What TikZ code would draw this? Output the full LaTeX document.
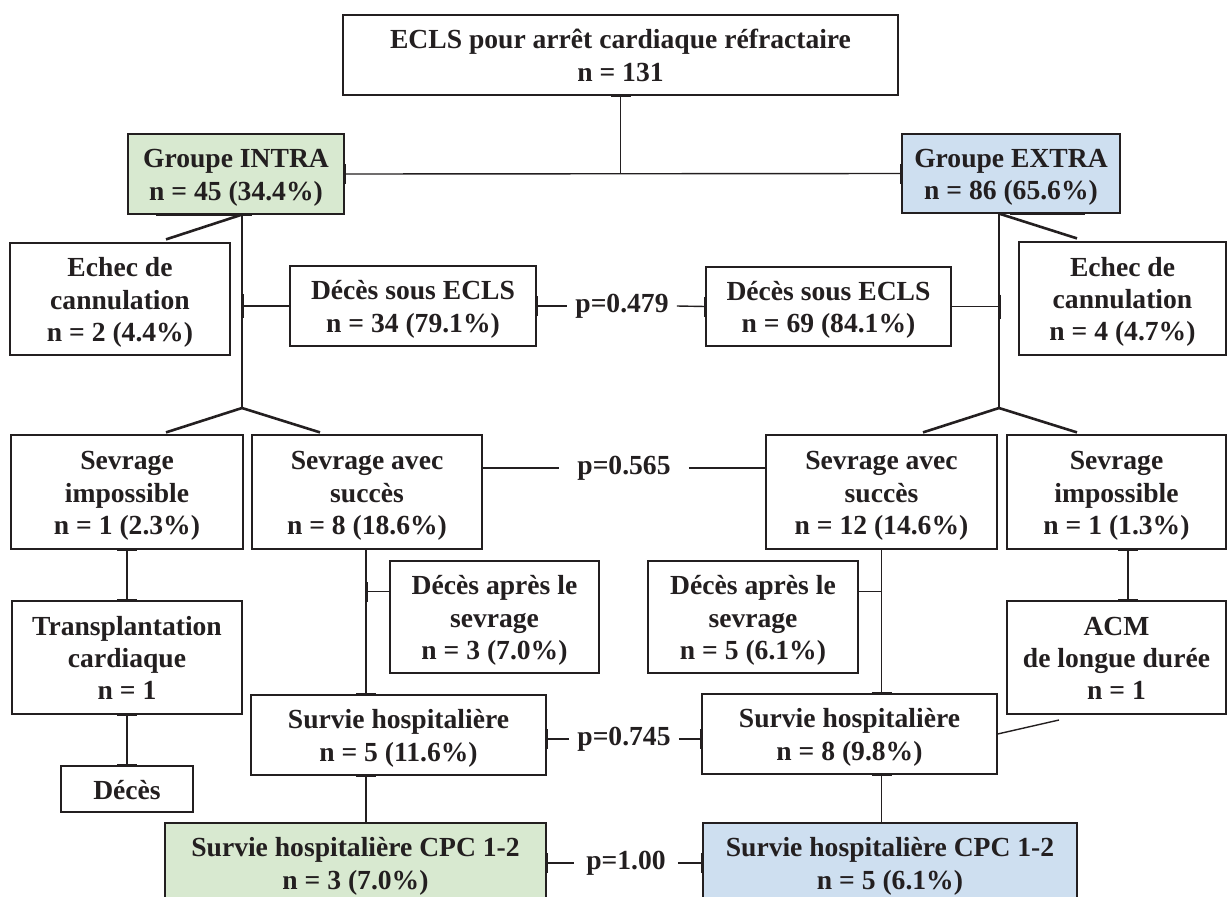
\documentclass[tikz,border=0pt]{standalone}
\usepackage{fontspec}
\setmainfont{Liberation Serif}
\usetikzlibrary{calc}
\definecolor{gfill}{RGB}{216,233,208}
\definecolor{bfill}{RGB}{206,223,240}
\definecolor{ink}{RGB}{35,31,32}
\begin{document}
\begin{tikzpicture}[x=1pt,y=-1pt,
  box/.style={draw=ink,line width=1.2pt,align=center,inner sep=0pt,text=ink,
    font=\fontsize{27.6}{32.4}\selectfont\bfseries,text depth=8pt},
  lone/.style={text height=28pt},
  ltwo/.style={text height=60.4pt},
  lthree/.style={text height=92.8pt},
  plabel/.style={inner ysep=0pt,inner xsep=8pt,text=ink,font=\fontsize{27.6}{32.4}\selectfont\bfseries},
  conn/.style={draw=ink,line width=1.4pt},
  diag/.style={draw=ink,line width=2.6pt},
  tick/.style={draw=ink,line width=3pt}]
\useasboundingbox (0,0) rectangle (1227,897);
\clip (0,0) rectangle (1227,897);

% nodes
\node[box,ltwo,minimum width=555pt,minimum height=80pt] (top) at (620.5,55) {ECLS pour arrêt cardiaque réfractaire\\n = 131};
\node[box,ltwo,fill=gfill,minimum width=216pt,minimum height=80pt] (intra) at (236,174) {Groupe INTRA\\n = 45 (34.4\%)};
\node[box,ltwo,fill=bfill,minimum width=218pt,minimum height=79pt] (extra) at (1011,173.5) {Groupe EXTRA\\n = 86 (65.6\%)};

\node[box,lthree,minimum width=220pt,minimum height=112pt] (echecL) at (120,299) {Echec de\\cannulation\\n = 2 (4.4\%)};
\node[box,ltwo,minimum width=246pt,minimum height=80pt] (decesL) at (413,306) {Décès sous ECLS\\n = 34 (79.1\%)};
\node[box,ltwo,minimum width=245pt,minimum height=79pt] (decesR) at (828.5,306.5) {Décès sous ECLS\\n = 69 (84.1\%)};
\node[box,lthree,minimum width=207pt,minimum height=113pt] (echecR) at (1122.5,298.5) {Echec de\\cannulation\\n = 4 (4.7\%)};
\node[plabel] (p1) at (622,306) {p=0.479};

\node[box,lthree,minimum width=232pt,minimum height=114pt] (sevImpL) at (127,492) {Sevrage\\impossible\\n = 1 (2.3\%)};
\node[box,lthree,minimum width=230pt,minimum height=114pt] (sevSucL) at (367,492) {Sevrage avec\\succès\\n = 8 (18.6\%)};
\node[box,lthree,minimum width=231pt,minimum height=114pt] (sevSucR) at (881.5,492) {Sevrage avec\\succès\\n = 12 (14.6\%)};
\node[box,lthree,minimum width=219pt,minimum height=114pt] (sevImpR) at (1116.5,492) {Sevrage\\impossible\\n = 1 (1.3\%)};
\node[plabel,inner xsep=18pt] (p2) at (624,468) {p=0.565};

\node[box,lthree,minimum width=230pt,minimum height=113pt] (transpl) at (127,657.5) {Transplantation\\cardiaque\\n = 1};
\node[box,lone,minimum width=132pt,minimum height=46pt] (decesBox) at (127,789) {Décès};
\node[box,lthree,minimum width=209pt,minimum height=112pt] (dapL) at (494.5,617) {Décès après le\\sevrage\\n = 3 (7.0\%)};
\node[box,lthree,minimum width=210pt,minimum height=112pt] (dapR) at (753,617) {Décès après le\\sevrage\\n = 5 (6.1\%)};
\node[box,lthree,minimum width=219pt,minimum height=113pt] (acm) at (1116.5,657.5) {ACM\\de longue durée\\n = 1};

\node[box,ltwo,minimum width=295pt,minimum height=80pt] (survL) at (398.5,735) {Survie hospitalière\\n = 5 (11.6\%)};
\node[box,ltwo,minimum width=295pt,minimum height=80pt] (survR) at (849.5,734) {Survie hospitalière\\n = 8 (9.8\%)};
\node[plabel] (p3) at (624,739) {p=0.745};

\node[box,ltwo,fill=gfill,minimum width=381pt,minimum height=80pt] (cpcL) at (355.5,863) {Survie hospitalière CPC 1-2\\n = 3 (7.0\%)};
\node[box,ltwo,fill=bfill,minimum width=374pt,minimum height=80pt] (cpcR) at (890,863) {Survie hospitalière CPC 1-2\\n = 5 (6.1\%)};
\node[plabel,inner xsep=12pt] (p4) at (626,863) {p=1.00};

% coordinates
\coordinate (forkL) at (242,408);
\coordinate (forkR) at (999,408);
\coordinate (acmEnd) at (1059,720);

% top level
\draw[conn] (top.south) -- (top.south |- intra.east);
\draw[conn] (intra.east) -- (extra.west);
\draw[tick] ($(top.south)+(-10,0)$) -- ($(top.south)+(10,0)$);
\draw[tick] ($(intra.east)+(0,-10)$) -- ($(intra.east)+(0,10)$);
\draw[tick] ($(extra.west)+(0,-10)$) -- ($(extra.west)+(0,10)$);

% left trunk
\draw[conn] (forkL |- intra.south) -- (forkL);
\draw[diag] (forkL |- intra.south) -- ($(echecL.north)+(46,-3)$);
\draw[conn] (forkL |- decesL.west) -- (decesL.west);
\draw[diag] (forkL) -- ($(sevImpL.north)+(39,-2)$);
\draw[diag] (forkL) -- ($(sevSucL.north)+(-47,-2)$);
\draw[tick] ($(intra.south)+(-80,0)$) -- ($(intra.south)+(16,0)$);
\draw[tick] ($(forkL |- decesL.west)+(0,-12)$) -- ($(forkL |- decesL.west)+(0,12)$);

% right trunk
\draw[conn] (forkR |- extra.south) -- (forkR);
\draw[diag] (forkR |- extra.south) -- ($(echecR.north)+(-45.5,-3)$);
\draw[conn] (forkR |- decesR.east) -- (decesR.east);
\draw[diag] (forkR) -- ($(sevSucR.north)+(41.5,-2)$);
\draw[diag] (forkR) -- ($(sevImpR.north)+(-39.5,-2)$);
\draw[tick] ($(forkR |- extra.south)+(11,0)$) -- ($(forkR |- extra.south)+(86,0)$);
\draw[tick] ($(forkR |- decesR.east)+(0,-12)$) -- ($(forkR |- decesR.east)+(0,12)$);

% p-values
\draw[conn] (decesL.east) -- (p1.west);
\draw[conn] (p1.east) -- (decesR.west);
\draw[tick] ($(decesL.east)+(0,-10)$) -- ($(decesL.east)+(0,10)$);
\draw[tick] ($(decesR.west)+(0,-10)$) -- ($(decesR.west)+(0,10)$);
\draw[conn] (sevSucL.east |- p2.west) -- (p2.west);
\draw[conn] (p2.east) -- (p2.east -| sevSucR.west);
\draw[conn] (survL.east |- p3.west) -- (p3.west);
\draw[conn] (p3.east) -- (p3.east -| survR.west);
\draw[tick] ($(survL.east |- p3.west)+(0,-10)$) -- ($(survL.east |- p3.west)+(0,10)$);
\draw[tick] ($(p3.east -| survR.west)+(0,-10)$) -- ($(p3.east -| survR.west)+(0,10)$);
\draw[conn] (cpcL.east |- p4.west) -- (p4.west);
\draw[conn] (p4.east) -- (p4.east -| cpcR.west);
\draw[tick] ($(cpcL.east |- p4.west)+(0,-10)$) -- ($(cpcL.east |- p4.west)+(0,10)$);
\draw[tick] ($(p4.east -| cpcR.west)+(0,-10)$) -- ($(p4.east -| cpcR.west)+(0,10)$);

% left lower branches
\draw[conn] (sevImpL.south) -- (transpl.north);
\draw[conn] (transpl.south) -- (decesBox.north);
\draw[tick] ($(sevImpL.south)+(-10,0)$) -- ($(sevImpL.south)+(10,0)$);
\draw[tick] ($(transpl.north)+(-10,0)$) -- ($(transpl.north)+(10,0)$);
\draw[tick] ($(transpl.south)+(-10,0)$) -- ($(transpl.south)+(10,0)$);
\draw[tick] ($(decesBox.north)+(-10,0)$) -- ($(decesBox.north)+(10,0)$);
\draw[conn] ($(sevSucL.south)+(-1,0)$) -- ($(sevSucL.south |- survL.north)+(-1,0)$);
\draw[conn] ($(sevSucL.south |- dapL.north)+(-1,31)$) -- ($(dapL.north west)+(0,31)$);
\draw[tick] ($(sevSucL.south |- dapL.north)+(-1,22)$) -- ($(sevSucL.south |- dapL.north)+(-1,42)$);
\draw[conn] ($(sevSucL.south |- survL.south)+(-1,0)$) -- ($(sevSucL.south |- cpcL.north)+(-1,0)$);
\draw[tick] ($(sevSucL.south |- survL.north)+(-11,0)$) -- ($(sevSucL.south |- survL.north)+(9,0)$);
\draw[tick] ($(sevSucL.south |- survL.south)+(-11,0)$) -- ($(sevSucL.south |- survL.south)+(9,0)$);

% right lower branches
\draw[conn] (sevSucR.south) -- (sevSucR.south |- survR.north);
\draw[conn] ($(sevSucR.south |- dapR.north)+(0,31)$) -- ($(dapR.north east)+(0,31)$);
\draw[tick] ($(sevSucR.south |- survR.north)+(-10,0)$) -- ($(sevSucR.south |- survR.north)+(10,0)$);
\draw[tick] ($(sevSucR.south |- survR.south)+(-10,0)$) -- ($(sevSucR.south |- survR.south)+(10,0)$);
\draw[conn] (sevSucR.south |- survR.south) -- (sevSucR.south |- cpcR.north);
\draw[conn] ($(sevImpR.south)+(11.5,0)$) -- ($(acm.north)+(11.5,0)$);
\draw[tick] ($(sevImpR.south)+(1.5,0)$) -- ($(sevImpR.south)+(21.5,0)$);
\draw[tick] ($(acm.north)+(1.5,0)$) -- ($(acm.north)+(21.5,0)$);
\draw[conn] (acmEnd) -- (survR.east);
\end{tikzpicture}
\end{document}
